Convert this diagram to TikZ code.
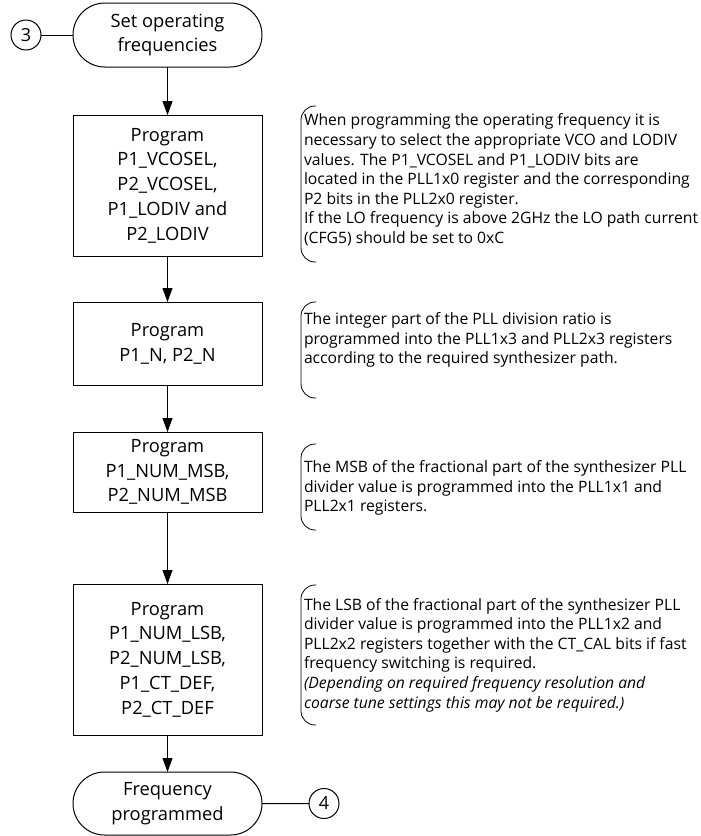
\documentclass[tikz,border=0pt]{standalone}
\usepackage{fontspec}
\setmainfont{Open Sans}
\usetikzlibrary{shapes.misc,arrows.meta}
\begin{document}
\begin{tikzpicture}[x=1pt,y=-1pt,
  every node/.style={inner sep=0pt, outer sep=0pt},
  procbox/.style={draw, line width=1pt, minimum width=189pt, align=center, font=\fontsize{18.3}{24.8}\selectfont},
  term/.style={draw, line width=1pt, rounded rectangle, minimum width=189pt, align=center, font=\fontsize{18.3}{24.8}\selectfont},
  conn/.style={draw, circle, line width=1pt, minimum size=30pt, font=\fontsize{18}{20}\selectfont},
  note/.style={align=left, anchor=west, font=\fontsize{15.7}{19.6}\selectfont},
  flow/.style={line width=1pt, -{Triangle[length=14pt,width=10pt]}},
  link/.style={line width=1pt},
  brk/.style={line width=0.8pt, rounded corners=14pt}]
\useasboundingbox (0,0) rectangle (701,836);

\node[conn] (c3) at (26,35) {3};
\node[term, minimum height=64pt] (start) at (167.5,35) {Set operating\\frequencies};
\node[procbox, minimum height=141pt] (b1) at (167.5,185.5) {Program\\P1\_VCOSEL,\\P2\_VCOSEL,\\P1\_LODIV and\\P2\_LODIV};
\node[procbox, minimum height=83pt] (b2) at (167.5,343.5) {Program\\P1\_N, P2\_N};
\node[procbox, minimum height=80pt] (b3) at (167.5,472) {Program\\P1\_NUM\_MSB,\\P2\_NUM\_MSB};
\node[procbox, minimum height=151pt] (b4) at (167.5,659.5) {Program\\P1\_NUM\_LSB,\\P2\_NUM\_LSB,\\P1\_CT\_DEF,\\P2\_CT\_DEF};
\node[term, minimum height=63pt] (end) at (167.5,803.5) {Frequency\\programmed};
\node[conn] (c4) at (324,803.5) {4};

\draw[link] (c3) -- (start);
\draw[link] (end) -- (c4);
\draw[flow] (start) -- (b1);
\draw[flow] (b1) -- (b2);
\draw[flow] (b2) -- (b3);
\draw[flow] (b3) -- (b4);
\draw[flow] (b4) -- (end);

\node[note] (n1) at (304,180) {When programming the operating frequency it is\\necessary to select the appropriate VCO and LODIV\\values. The P1\_VCOSEL and P1\_LODIV bits are\\located in the PLL1x0 register and the corresponding\\P2 bits in the PLL2x0 register.\\If the LO frequency is above 2GHz the LO path current\\(CFG5) should be set to 0xC};
\draw[brk] (316,106) -- (301,106) -- (301,262) -- (316,262);

\node[note] (n2) at (304,340) {The integer part of the PLL division ratio is\\programmed into the PLL1x3 and PLL2x3 registers\\according to the required synthesizer path.};
\draw[brk] (316,302) -- (301,302) -- (301,398) -- (316,398);

\node[note] (n3) at (304,488) {The MSB of the fractional part of the synthesizer PLL\\divider value is programmed into the PLL1x1 and\\PLL2x1 registers.};
\draw[brk] (316,444) -- (301,444) -- (301,530) -- (316,530);

\node[note] (n4) at (304,655) {The LSB of the fractional part of the synthesizer PLL\\divider value is programmed into the PLL1x2 and\\PLL2x2 registers together with the CT\_CAL bits if fast\\frequency switching is required.\\\textit{(Depending on required frequency resolution and}\\\textit{coarse tune settings this may not be required.)}};
\draw[brk] (316,585) -- (301,585) -- (301,725) -- (316,725);
\end{tikzpicture}
\end{document}
